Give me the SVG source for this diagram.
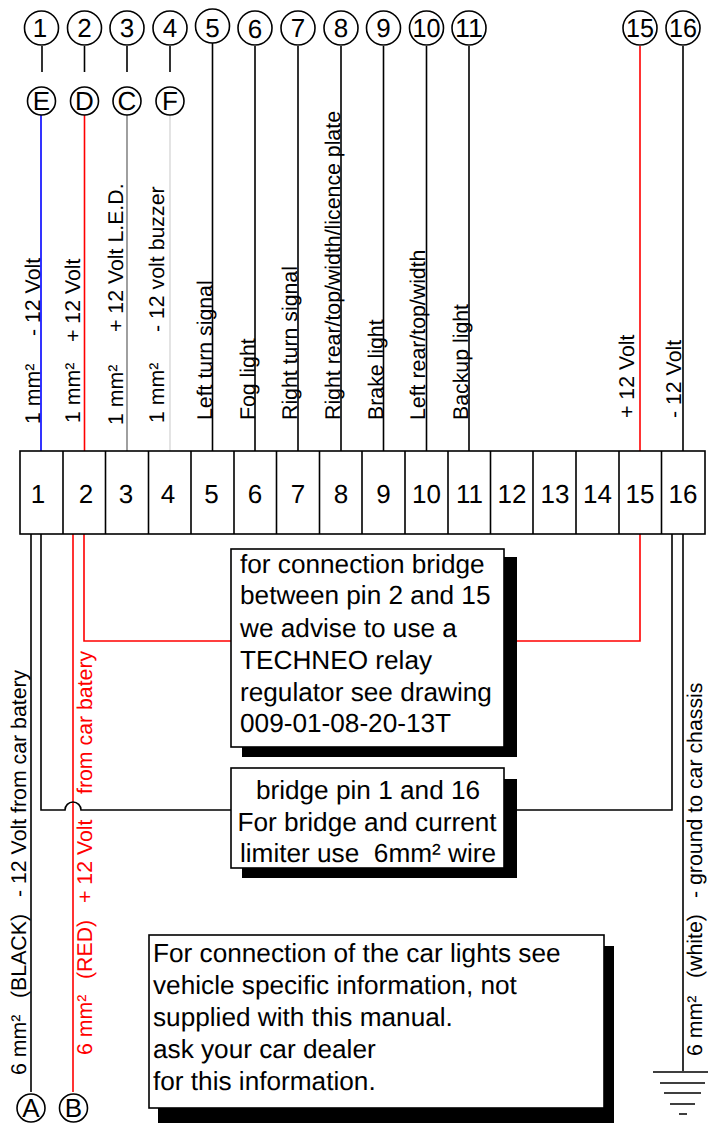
<svg xmlns="http://www.w3.org/2000/svg" width="708" height="1124" viewBox="0 0 708 1124">
<style>
text{font-family:"Liberation Sans",Arial,sans-serif;fill:#000;text-rendering:geometricPrecision}
.c{fill:#fff;stroke:#000;stroke-width:1.600}
.n{font-size:26px;text-anchor:middle}
.v{font-size:21.300px}
.b{font-size:26.200px}
.w{fill:none;stroke:#000;stroke-width:1.600}
.r{fill:none;stroke:#f00;stroke-width:1.600}
.box{fill:#fff;stroke:#000;stroke-width:1.600}
.red{fill:#f00}
</style>
<rect width="708" height="1124" fill="#fff"/>
<g id="connectors">
<path class="w" d="M42 46V72M84.500 46V72M127 46V72M170 46V72M212.500 43V452M255 46V452M298 46V452M341 46V452M383.500 46V452M426.500 46V452M469 46V452M683 46V452"/>
<path d="M41 115V452" fill="none" stroke="#00f" stroke-width="1.600"/>
<path class="r" d="M84.500 115V452"/>
<path d="M127 115V452" fill="none" stroke="#888" stroke-width="1.600"/>
<path d="M170 115V452" fill="none" stroke="#ddd" stroke-width="1.600"/>
<path class="r" d="M640 46V452"/>
<path class="w" d="M31 534V1092"/>
<path class="r" d="M73 534V1092"/>
<path class="r" d="M84 534V641H232"/>
<path class="r" d="M640 534V641H504"/>
<path class="w" d="M41 534V810H65A8 8 0 0 1 81 810H232"/>
<path class="w" d="M504 810H672V534"/>
<path class="w" d="M683 534V1071"/>
<path class="w" d="M653 1072H708M660 1083H705M664 1093H701M670 1104H695M679 1114H687"/>
</g>
<g id="pins">
<g id="p1"><circle class="c" cx="41.500" cy="28" r="17"/><text class="n" x="40" y="37">1</text></g>
<g id="p2"><circle class="c" cx="84.500" cy="28" r="17"/><text class="n" x="84.500" y="37">2</text></g>
<g id="p3"><circle class="c" cx="127" cy="28" r="17"/><text class="n" x="127" y="37">3</text></g>
<g id="p4"><circle class="c" cx="170" cy="28" r="17"/><text class="n" x="170" y="37">4</text></g>
<g id="p5"><circle class="c" cx="212.500" cy="26" r="17"/><text class="n" x="212.500" y="37">5</text></g>
<g id="p6"><circle class="c" cx="255" cy="28" r="17"/><text class="n" x="255" y="38">6</text></g>
<g id="p7"><circle class="c" cx="298" cy="28" r="17"/><text class="n" x="298" y="37">7</text></g>
<g id="p8"><circle class="c" cx="341" cy="28" r="17"/><text class="n" x="341" y="37">8</text></g>
<g id="p9"><circle class="c" cx="383.500" cy="28" r="17"/><text class="n" x="383.500" y="37">9</text></g>
<g id="p10"><circle class="c" cx="426.500" cy="28" r="17"/><text class="n" x="426.500" y="37" textLength="28" lengthAdjust="spacingAndGlyphs">10</text></g>
<g id="p11"><circle class="c" cx="469" cy="28" r="17"/><text class="n" x="469" y="37" textLength="28" lengthAdjust="spacingAndGlyphs">11</text></g>
<g id="p15"><circle class="c" cx="640" cy="28" r="17"/><text class="n" x="640" y="37" textLength="28" lengthAdjust="spacingAndGlyphs">15</text></g>
<g id="p16"><circle class="c" cx="683" cy="28" r="17"/><text class="n" x="683" y="37" textLength="28" lengthAdjust="spacingAndGlyphs">16</text></g>
<g id="lE"><circle class="c" cx="41.500" cy="101" r="14"/><text class="n" x="41.500" y="110">E</text></g>
<g id="lD"><circle class="c" cx="84.500" cy="101" r="14"/><text class="n" x="84.500" y="110">D</text></g>
<g id="lC"><circle class="c" cx="127" cy="101" r="14"/><text class="n" x="127" y="110">C</text></g>
<g id="lF"><circle class="c" cx="170" cy="101" r="14"/><text class="n" x="170" y="110">F</text></g>
<g id="lA"><circle class="c" cx="31" cy="1108" r="14"/><text class="n" x="31" y="1117">A</text></g>
<g id="lB"><circle class="c" cx="73.500" cy="1108" r="14"/><text class="n" x="73.500" y="1117">B</text></g>
</g>
<g id="terminal">
<rect class="box" x="20" y="451" width="685" height="83"/>
<path class="w" d="M63 451V534M105.500 451V534M148.500 451V534M191 451V534M234 451V534M276.500 451V534M319.500 451V534M362 451V534M405 451V534M448 451V534M490.500 451V534M533 451V534M576 451V534M619 451V534M661.500 451V534"/>
<text class="n" x="38" y="503">1</text><text class="n" x="86" y="503">2</text><text class="n" x="126" y="503">3</text><text class="n" x="168" y="503">4</text><text class="n" x="211.500" y="503">5</text><text class="n" x="255" y="503">6</text><text class="n" x="298" y="503">7</text><text class="n" x="341" y="503">8</text><text class="n" x="383.500" y="503">9</text><text class="n" x="426.500" y="503">10</text><text class="n" x="469.500" y="503">11</text><text class="n" x="512" y="503">12</text><text class="n" x="555" y="503">13</text><text class="n" x="597.500" y="503">14</text><text class="n" x="640" y="503">15</text><text class="n" x="683" y="503">16</text>
</g>
<g id="upper-labels">
<text class="v" transform="translate(40 424) rotate(-90)">1 mm²</text>
<text class="v" transform="translate(40 336) rotate(-90)">- 12 Volt</text>
<text class="v" transform="translate(80 423) rotate(-90)">1 mm²</text>
<text class="v" transform="translate(80 342) rotate(-90)">+ 12 Volt</text>
<text class="v" transform="translate(123 425) rotate(-90)">1 mm²</text>
<text class="v" transform="translate(123 332) rotate(-90)">+ 12 Volt L.E.D.</text>
<text class="v" transform="translate(164 423) rotate(-90)">1 mm²</text>
<text class="v" transform="translate(164 332) rotate(-90)">- 12 volt buzzer</text>
<text class="v" transform="translate(212 420) rotate(-90)">Left turn signal</text>
<text class="v" transform="translate(255 420) rotate(-90)">Fog light</text>
<text class="v" transform="translate(297 420) rotate(-90)">Right turn signal</text>
<text class="v" transform="translate(340 420) rotate(-90)">Right rear/top/width/licence plate</text>
<text class="v" transform="translate(383 420) rotate(-90)">Brake light</text>
<text class="v" transform="translate(425 420) rotate(-90)">Left rear/top/width</text>
<text class="v" transform="translate(468 420) rotate(-90)">Backup light</text>
<text class="v" transform="translate(634 418) rotate(-90)">+ 12 Volt</text>
<text class="v" transform="translate(681 418) rotate(-90)">- 12 Volt</text>
</g>
<g id="lower-labels">
<text class="v" transform="translate(26 1075) rotate(-90)">6 mm²</text>
<text class="v" transform="translate(26 998) rotate(-90)">(BLACK)</text>
<text class="v" transform="translate(26 897) rotate(-90)">- 12 Volt from car batery</text>
<text class="v red" transform="translate(92 1055) rotate(-90)">6 mm²</text>
<text class="v red" transform="translate(92 979) rotate(-90)">(RED)</text>
<text class="v red" transform="translate(92 903) rotate(-90)">+ 12 Volt</text>
<text class="v red" transform="translate(92 794) rotate(-90)">from car batery</text>
<text class="v" transform="translate(702 1056) rotate(-90)">6 mm²</text>
<text class="v" transform="translate(702 978) rotate(-90)">(white)</text>
<text class="v" transform="translate(702 898) rotate(-90)">- ground to car chassis</text>
</g>
<g id="note-bridge15">
<rect x="242" y="557" width="275" height="200" fill="#000"/>
<rect class="box" x="231" y="549" width="273" height="198"/>
<text class="b" x="240" y="573">for connection bridge</text>
<text class="b" x="240" y="604">between pin 2 and 15</text>
<text class="b" x="240" y="637">we advise to use a</text>
<text class="b" x="240" y="669">TECHNEO relay</text>
<text class="b" x="240" y="701">regulator see drawing</text>
<text class="b" x="240" y="732">009-01-08-20-13T</text>
</g>
<g id="note-bridge1">
<rect x="242" y="779" width="275" height="99" fill="#000"/>
<rect class="box" x="231" y="768" width="273" height="100"/>
<text class="b" x="368" y="799" text-anchor="middle">bridge pin 1 and 16</text>
<text class="b" x="367" y="831" text-anchor="middle">For bridge and current</text>
<text class="b" x="368" y="862" text-anchor="middle" xml:space="preserve">limiter use  6mm² wire</text>
</g>
<g id="note-lights">
<rect x="158" y="946" width="456" height="177" fill="#000"/>
<rect class="box" x="149" y="935" width="455" height="173"/>
<text class="b" x="153" y="962">For connection of the car lights see</text>
<text class="b" x="153" y="994">vehicle specific information, not</text>
<text class="b" x="153" y="1026">supplied with this manual.</text>
<text class="b" x="153" y="1058">ask your car dealer</text>
<text class="b" x="153" y="1090">for this information.</text>
</g>
</svg>
